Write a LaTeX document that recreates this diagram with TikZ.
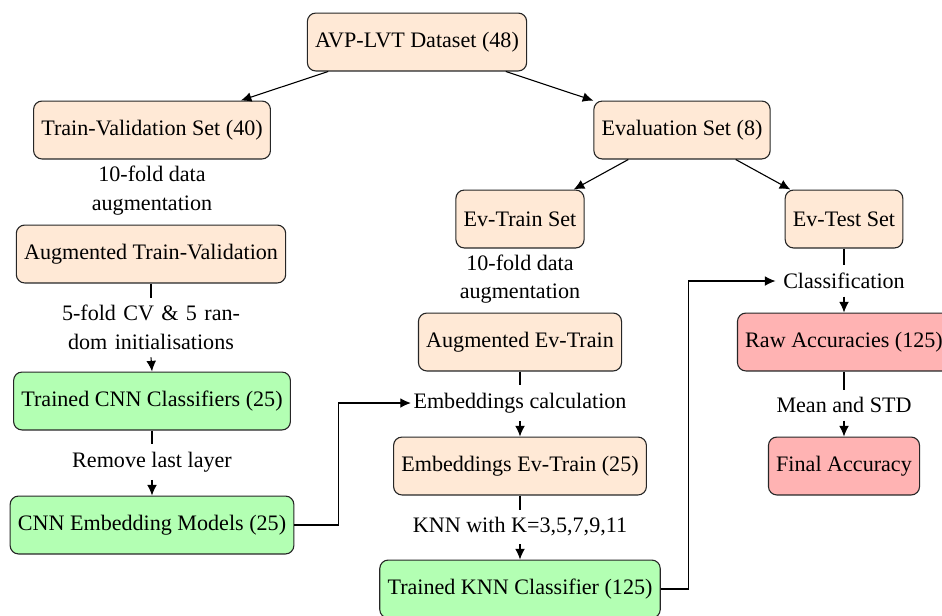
\documentclass[tikz,border=0pt]{standalone}
\usepackage{fontspec}
\setmainfont{Liberation Serif}
\usetikzlibrary{arrows.meta}
\definecolor{peach}{RGB}{255,233,214}
\definecolor{mint}{RGB}{179,255,179}
\definecolor{rose}{RGB}{255,179,179}
\begin{document}
\begin{tikzpicture}[x=0.4525pt,y=-0.4525pt,
  font=\fontsize{10}{12.9}\selectfont,
  box/.style={draw=black!85, line width=0.5pt, rounded corners=3.8pt,
    minimum height=26.2pt, inner xsep=3.5pt},
  setbox/.style={box, fill=peach},
  modelbox/.style={box, fill=mint},
  resultbox/.style={box, fill=rose},
  lab/.style={inner sep=3.3pt},
  wrap/.style={lab, text width=3cm, align=center},
  arr/.style={-{Latex[length=4.8pt,width=4.4pt]}, line width=0.5pt},
  conn/.style={line width=0.5pt}]
\useasboundingbox (0,0) rectangle (942,615);

% boxes
\node[setbox] (avp) at (417,42) {AVP-LVT Dataset (48)};
\node[setbox] (tv) at (152,130) {Train-Validation Set (40)};
\node[setbox] (ev) at (682,130) {Evaluation Set (8)};
\node[setbox] (atv) at (151,254) {Augmented Train-Validation};
\node[modelbox] (tcnn) at (152,401) {Trained CNN Classifiers (25)};
\node[modelbox] (cnnemb) at (152,525) {CNN Embedding Models (25)};
\node[setbox] (evtr) at (520,219) {Ev-Train Set};
\node[setbox] (evte) at (844,219) {Ev-Test Set};
\node[setbox] (aevtr) at (520,342) {Augmented Ev-Train};
\node[setbox] (embevtr) at (520,466) {Embeddings Ev-Train (25)};
\node[modelbox] (tknn) at (520,589) {Trained KNN Classifier (125)};
\node[resultbox] (raw) at (844,342) {Raw Accuracies (125)};
\node[resultbox] (final) at (844,466) {Final Accuracy};

% labels
\node[lab, align=center] (l1) at (152,190.5) {10-fold data\\augmentation};
\node[wrap] (l2) at (151,327.5) {5-fold CV \& 5 random initialisations};
\node[lab] (l3) at (152,462) {Remove last layer};
\node[lab, align=center] (l4) at (520,279) {10-fold data\\augmentation};
\node[lab, inner xsep=1pt] (l5) at (520,403) {Embeddings calculation};
\node[lab] (l6) at (520,527) {KNN with K=3,5,7,9,11};
\node[lab] (l7) at (844,281) {Classification};
\node[lab] (l8) at (844,405) {Mean and STD};

% connectors
\draw[arr] (avp) -- (tv);
\draw[arr] (avp) -- (ev);
\draw[arr] (ev) -- (evtr);
\draw[arr] (ev) -- (evte);

\draw[conn] (atv.south) -- (l2.north);
\draw[arr] (l2.south) -- (tcnn.north);
\draw[conn] (tcnn.south) -- (l3.north);
\draw[arr] (l3.south) -- (cnnemb.north);

\draw[conn] (aevtr.south) -- (l5.north);
\draw[arr] (l5.south) -- (embevtr.north);
\draw[conn] (embevtr.south) -- (l6.north);
\draw[arr] (l6.south) -- (tknn.north);

\draw[conn] (evte.south) -- (l7.north);
\draw[arr] (l7.south) -- (raw.north);
\draw[conn] (raw.south) -- (l8.north);
\draw[arr] (l8.south) -- (final.north);

\draw[arr] (cnnemb.east) -- ++(44,0) |- (l5.west);
\draw[arr] (tknn.east) -- ++(28,0) |- (l7.west);
\end{tikzpicture}
\end{document}
